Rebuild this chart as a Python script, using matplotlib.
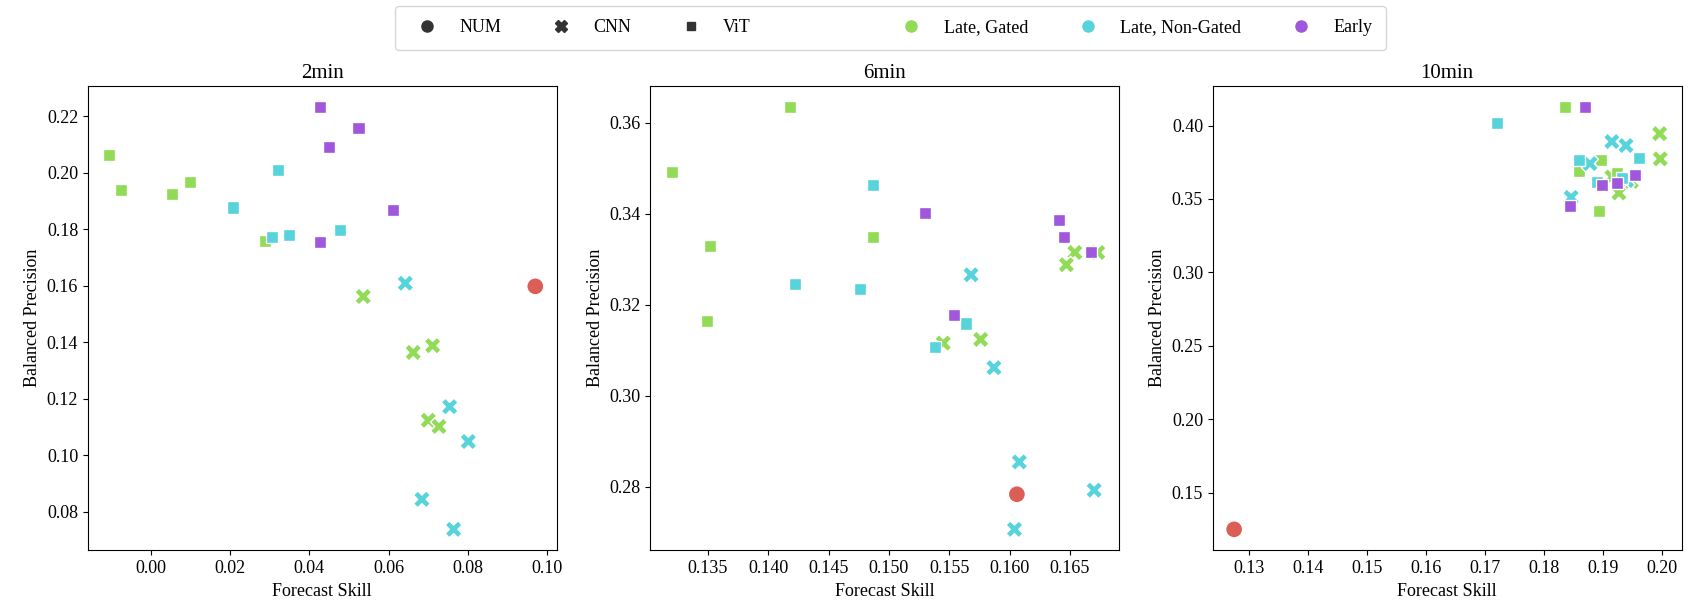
import numpy as np
import pandas as pd
import seaborn as sns
import matplotlib
matplotlib.use("Agg")
from matplotlib import pyplot as plt
from matplotlib.lines import Line2D

# row order per horizon: NUM, gated CNN x5, gated ViT x5, non-gated CNN x5, non-gated ViT x5, early ViT x5
horizons = ["2min", "6min", "10min"]
fusion_levels = ["Late, Gated", "Late, Non-Gated", "Early"]
model_levels = ["NUM", "CNN", "ViT"]

model_col = ["NUM"] + ["CNN"] * 5 + ["ViT"] * 5 + ["CNN"] * 5 + ["ViT"] * 5 + ["ViT"] * 5
fusion_col = (["NUM"] + ["Late, Gated"] * 10 + ["Late, Non-Gated"] * 10 + ["Early"] * 5)

skill_2min = [0.0970,
              0.0536, 0.0662, 0.0711, 0.0700, 0.0727,
              -0.0105, -0.0074, 0.0053, 0.0098, 0.0287,
              0.0642, 0.0754, 0.0801, 0.0684, 0.0764,
              0.0208, 0.0322, 0.0305, 0.0349, 0.0477,
              0.0426, 0.0450, 0.0524, 0.0610, 0.0426]
prec_2min = [0.1598,
             0.1562, 0.1364, 0.1388, 0.1124, 0.1102,
             0.2062, 0.1938, 0.1924, 0.1967, 0.1759,
             0.1609, 0.1172, 0.1049, 0.0844, 0.0738,
             0.1877, 0.2011, 0.1774, 0.1778, 0.1798,
             0.2232, 0.2090, 0.2159, 0.1867, 0.1755]

skill_6min = [0.1606,
              0.1654, 0.1647, 0.1673, 0.1576, 0.1545,
              0.1418, 0.1320, 0.1352, 0.1349, 0.1487,
              0.1568, 0.1587, 0.1608, 0.1670, 0.1604,
              0.1487, 0.1422, 0.1476, 0.1564, 0.1538,
              0.1530, 0.1641, 0.1645, 0.1667, 0.1554]
prec_6min = [0.2784,
             0.3315, 0.3288, 0.3315, 0.3124, 0.3116,
             0.3634, 0.3491, 0.3329, 0.3164, 0.3348,
             0.3266, 0.3062, 0.2855, 0.2793, 0.2707,
             0.3463, 0.3246, 0.3235, 0.3159, 0.3108,
             0.3401, 0.3386, 0.3350, 0.3317, 0.3177]

skill_10min = [0.1275,
               0.1996, 0.1997, 0.1927, 0.1948, 0.1915,
               0.1835, 0.1896, 0.1860, 0.1893, 0.1924,
               0.1915, 0.1939, 0.1878, 0.1846, 0.1940,
               0.1720, 0.1961, 0.1860, 0.1932, 0.1890,
               0.1869, 0.1898, 0.1923, 0.1955, 0.1844]
prec_10min = [0.1250,
              0.3945, 0.3773, 0.3541, 0.3620, 0.3650,
              0.4125, 0.3764, 0.3689, 0.3420, 0.3677,
              0.3891, 0.3864, 0.3741, 0.3511, 0.3625,
              0.4016, 0.3782, 0.3764, 0.3643, 0.3614,
              0.4125, 0.3598, 0.3609, 0.3661, 0.3450]

skills = [skill_2min, skill_6min, skill_10min]
precs = [prec_2min, prec_6min, prec_10min]

plt.rcParams["font.family"] = ["Liberation Serif", "DejaVu Serif"]
plt.rcParams["font.size"] = 13

pal = sns.color_palette("hls", 4)
hue_colors = {"NUM": pal[0], "Late, Gated": pal[1], "Late, Non-Gated": pal[2], "Early": pal[3]}
markers = {"NUM": "o", "CNN": "X", "ViT": (4, 0, 45)}

fig, axes = plt.subplots(1, 3, figsize=(16.9, 6.15), dpi=100)
plt.subplots_adjust(left=0.052, right=0.995, top=0.86, bottom=0.105, wspace=0.2)

for ax, name, sk, pr in zip(axes, horizons, skills, precs):
    df = pd.DataFrame({"Forecast Skill": sk, "Balanced Precision": pr,
                       "model": model_col, "fusion": fusion_col})
    sns.scatterplot(data=df, x="Forecast Skill", y="Balanced Precision",
                    hue="fusion", style="model", palette=hue_colors,
                    markers=markers, s=150, ax=ax, legend=False)
    ax.set_title(name, fontsize=15)
    ax.set_xlabel("Forecast Skill", fontsize=13)
    ax.set_ylabel("Balanced Precision", fontsize=13)
    ax.tick_params(labelsize=13)

handles = []
labels = []
for m in model_levels:
    handles.append(Line2D([], [], ls="", marker=markers[m], color="#333333", markersize=8))
    labels.append(m)
handles.append(Line2D([], [], ls="", marker=""))
labels.append("  ")
for f in fusion_levels:
    handles.append(Line2D([], [], ls="", marker="o", color=hue_colors[f], markersize=8))
    labels.append(f)

fig.legend(handles, labels, loc="upper center", bbox_to_anchor=(0.527, 1.005), ncol=7,
           fontsize=13, columnspacing=2.3, borderpad=0.75, frameon=True)

fig.savefig("out.png", dpi=100)
